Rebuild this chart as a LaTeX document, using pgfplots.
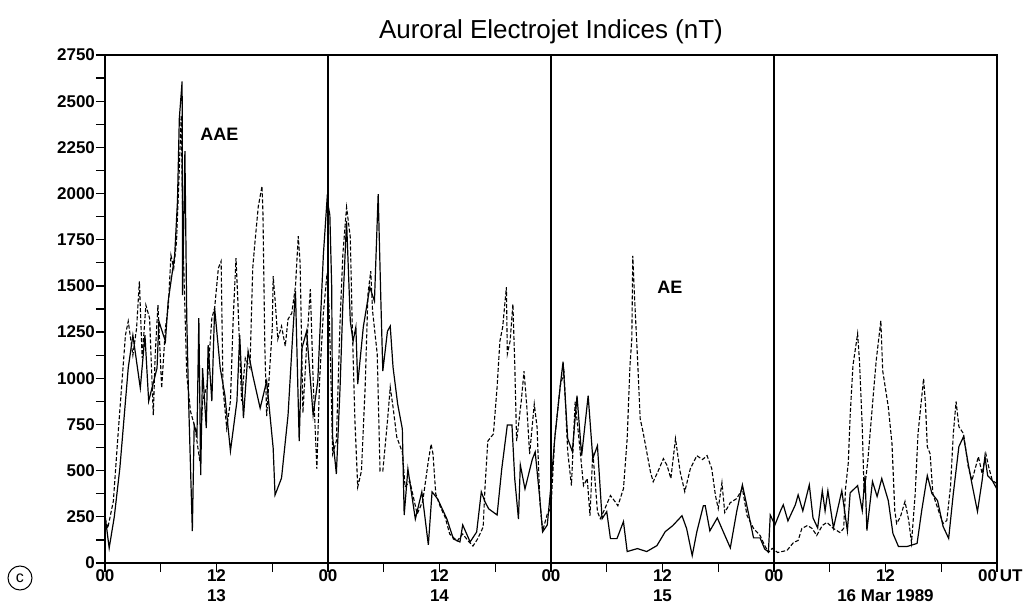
\documentclass[border=0pt]{standalone}
\usepackage{fontspec}
\setmainfont{Liberation Sans}
\usepackage{pgfplots}
\pgfplotsset{compat=1.18}
\pgfplotstableread{
h v
0 260
0.45 81
1.0 250
1.6 514
2.5 1055
3.0 1233
3.8 947
4.3 1233
4.7 876
5.6 1055
5.8 1309
6.5 1200
6.8 1417
7.2 1558
7.5 1666
7.8 1958
8.0 2407
8.3 2607
8.35 1450
8.6 2229
8.8 1325
9.0 876
9.4 173
9.6 747
9.9 692
10.1 1325
10.3 476
10.5 1055
10.9 730
11.1 1179
11.5 876
11.8 1380
12.4 1055
12.9 909
13.5 606
14.2 876
14.5 1233
14.9 784
15.4 1147
15.9 1017
16.7 838
17.4 985
18.1 622
18.3 368
19.0 460
19.7 800
20.2 1233
20.5 1471
20.9 660
21.2 1163
21.7 1255
22.4 800
22.9 985
23.5 1666
23.9 1970
24.2 1883
24.4 1493
24.5 682
24.9 482
25.3 952
25.6 1401
26.0 1850
26.4 1310
26.7 1200
27.0 1277
27.2 968
27.8 1277
28.5 1493
29.0 1418
29.4 1997
29.7 1401
29.9 1039
30.4 1255
30.7 1282
31.0 1060
31.5 860
32.0 726
32.2 260
32.6 509
33.4 238
34.1 385
34.8 98
35.2 385
35.8 347
36.8 238
37.5 130
38.2 114
38.5 206
39.3 114
40.0 168
40.5 385
40.9 331
41.3 293
42.2 260
42.7 509
43.3 747
43.8 747
44.1 455
44.5 238
44.7 531
45.2 401
46.0 563
46.3 601
46.8 347
47.1 168
47.6 206
48.0 420
48.4 673
49.0 960
49.3 1090
49.8 673
50.3 603
50.8 906
51.3 581
52.0 906
52.5 565
53.0 635
53.5 240
54.0 278
54.4 132
55.1 132
55.8 224
56.2 62
57.3 78
58.3 62
59.4 94
60.3 170
61.1 202
62.1 256
62.6 186
63.2 40
63.7 170
64.4 310
64.6 310
65.1 174
65.9 244
66.5 174
67.3 82
68.0 282
68.6 423
69.2 282
69.8 136
70.5 136
71.0 76
71.4 60
71.6 260
72.1 206
72.7 282
73.0 315
73.5 228
74.3 315
74.6 369
75.1 282
75.8 423
76.2 244
76.7 190
77.2 391
77.5 282
77.8 391
78.4 190
79.3 391
79.9 174
80.2 380
81.0 419
81.5 284
81.8 473
82.0 176
82.6 441
83.1 360
83.6 457
84.3 338
84.8 160
85.4 89
86.3 89
87.4 106
87.9 284
88.5 473
89.0 376
89.6 338
90.2 198
90.8 133
91.3 376
91.9 630
92.4 684
92.9 538
93.3 430
93.9 279
94.4 446
94.7 576
95.0 473
95.5 446
96.0 400
}\aae
\pgfplotstableread{
h v
0 243
0.3 189
0.9 335
1.4 692
1.8 963
2.2 1233
2.5 1309
3.0 1125
3.4 1271
3.7 1525
4.0 1109
4.4 1396
4.8 1325
5.2 800
5.4 1125
5.7 1396
6.1 947
6.5 1271
6.8 1380
7.1 1666
7.4 1596
7.7 1742
8.0 2137
8.2 2424
8.4 1742
8.8 1017
9.2 822
9.7 730
10.2 552
10.5 876
11.0 963
11.5 1325
11.8 1380
12.2 1596
12.5 1634
12.7 947
13.1 730
13.5 876
13.8 1325
14.1 1650
14.3 1417
14.7 876
15.1 1109
15.6 1055
15.9 1596
16.1 1715
16.5 1931
16.9 2040
17.0 1894
17.2 1174
17.4 795
18.0 1266
18.1 1553
18.3 1428
18.6 1212
19.0 1282
19.4 1174
19.7 1320
20.1 1352
20.5 1498
20.8 1769
21.0 1623
21.3 812
21.7 1174
22.1 1482
22.4 995
22.8 509
23.1 995
23.5 1352
23.9 1568
24.1 1400
24.3 1039
24.5 590
24.9 660
25.3 1309
25.6 1672
26.0 1926
26.4 1763
26.6 1309
26.9 768
27.2 411
27.6 498
28.0 952
28.3 1455
28.6 1580
28.8 1363
29.3 1131
29.6 498
29.9 498
30.4 768
30.7 952
31.0 844
31.4 682
32.0 600
32.3 411
32.8 444
33.6 265
34.2 335
34.8 552
35.1 644
35.3 590
35.6 374
36.1 303
36.6 249
37.1 157
37.9 119
38.5 157
39.1 119
39.6 92
40.1 130
40.7 195
40.9 411
41.2 660
41.8 698
42.2 952
42.5 1201
42.8 1277
43.2 1493
43.3 1131
43.6 1201
43.9 1401
44.1 1077
44.3 660
44.8 877
45.1 1039
45.4 844
45.7 590
46.2 860
46.5 736
46.8 335
47.1 173
47.6 265
48.0 300
48.4 673
49.0 960
49.4 1033
49.8 603
50.2 419
50.6 873
50.9 727
51.5 419
51.9 457
52.2 256
52.5 603
53.0 278
53.3 240
53.8 294
54.4 365
54.9 332
55.2 310
55.8 402
56.2 673
56.5 1068
56.7 1214
56.8 1663
57.0 1430
57.3 1122
57.6 781
57.9 711
58.3 603
58.7 494
59.0 440
59.5 494
60.1 565
60.5 527
60.9 457
61.4 673
61.9 494
62.4 386
63.0 511
63.7 581
64.3 560
64.8 581
65.3 511
65.7 365
66.0 295
66.4 435
66.7 273
67.3 327
68.0 349
68.6 403
69.1 257
69.8 187
70.5 149
71.0 95
71.4 57
71.8 79
72.4 57
73.4 68
74.1 111
74.6 122
75.0 187
75.6 203
76.1 187
76.6 149
77.2 203
77.7 220
78.4 187
79.1 165
79.5 187
79.7 403
80.0 544
80.2 800
80.5 1070
81.0 1241
81.2 1095
81.5 738
81.7 376
82.1 555
82.7 917
83.0 1095
83.5 1312
83.7 1041
84.3 846
84.7 646
85.0 284
85.2 214
85.6 249
86.1 333
86.5 230
86.8 110
87.2 376
87.5 700
88.1 998
88.3 863
88.5 630
88.8 592
89.1 376
89.7 284
90.2 214
90.6 230
91.0 414
91.3 700
91.6 874
91.9 738
92.4 700
92.9 522
93.3 446
93.8 538
94.0 576
94.4 484
94.8 592
95.1 522
95.5 446
96.0 430
}\ae
\begin{document}
\begin{tikzpicture}
\path[use as bounding box] (-52.5pt,-23.5pt) rectangle (461pt,281.5pt);
\begin{axis}[
  at={(0,0)}, anchor=south west,
  width=446pt, height=254pt, scale only axis,
  xmin=0, xmax=96, ymin=0, ymax=2750,
  axis line style={line width=0.7pt},
  tick pos=left, tick align=outside,
  major tick length=4.5pt, minor tick length=4.5pt,
  every tick/.style={black, line width=0.6pt},
  xtick={0,12,...,96}, minor xtick={6,18,...,90},
  xticklabels={00,{12\\13},00,{12\\14},00,{12\\15},00,{12\\16 Mar 1989},{\llap{00}\rlap{\kern1.5pt UT}}},
  xticklabel style={align=center, yshift=4.5pt, font=\bfseries\fontsize{8.5}{10}\selectfont},
  ytick={0,250,...,2750}, minor ytick={125,375,...,2625},
  yticklabels={0,250,500,750,1000,1250,1500,1750,2000,2250,2500,2750},
  yticklabel style={xshift=3pt, font=\bfseries\fontsize{8.5}{10}\selectfont},
  extra x ticks={24,48,72}, extra x tick labels={},
  extra x tick style={grid=major, major grid style={black, line width=0.6pt}},
  title={Auroral Electrojet Indices (nT)},
  title style={at={(0.5,1)}, anchor=base, yshift=2pt, font=\fontsize{13}{15}\selectfont},
]
\addplot[black, line width=0.55pt, dash pattern=on 2pt off 1pt] table[x=h, y=v] {\ae};
\addplot[black, line width=0.6pt] table[x=h, y=v] {\aae};
\node[anchor=west, font=\bfseries\fontsize{9}{11}\selectfont] at (axis cs:9.5,2320) {AAE};
\node[anchor=west, font=\bfseries\fontsize{9}{11}\selectfont] at (axis cs:58.7,1490) {AE};
\end{axis}
\node[draw, circle, minimum size=12pt, inner sep=0pt, line width=0.5pt, font=\fontsize{8}{9}\selectfont] at (-42.5pt,-7.5pt) {c};
\end{tikzpicture}
\end{document}
